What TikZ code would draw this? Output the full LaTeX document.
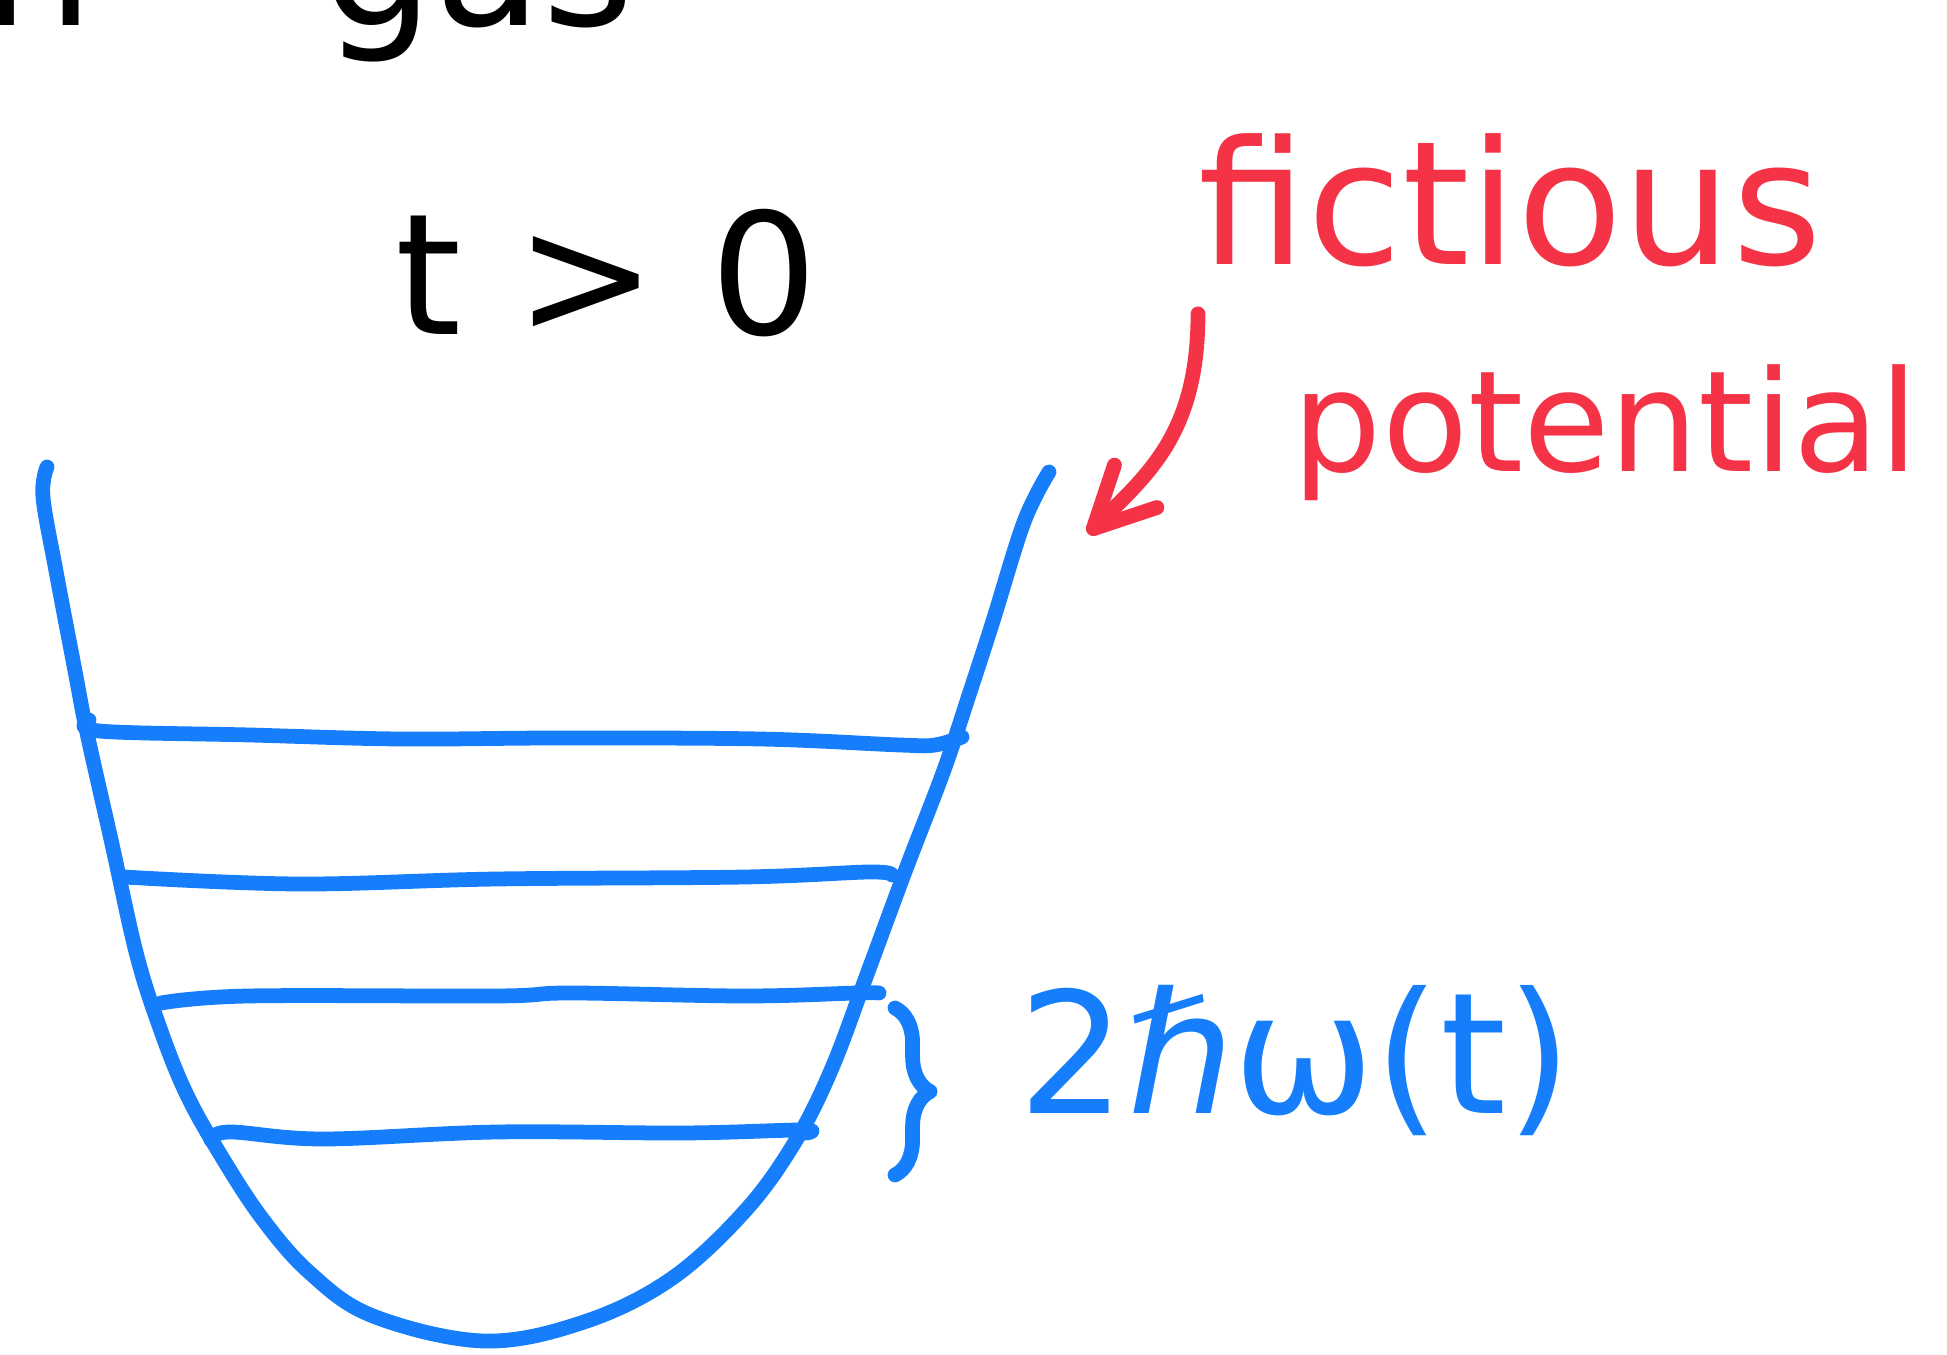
\documentclass[tikz,border=0pt]{standalone}
\usepackage{fontspec}
\setmainfont{DejaVu Sans}
\usetikzlibrary{positioning, arrows.meta, decorations.pathreplacing}
\definecolor{wellblue}{RGB}{22,126,250}
\definecolor{notered}{RGB}{244,52,70}

\begin{document}
\begin{tikzpicture}[x=0.01cm, y=-0.01cm,
    ink/.style={line width=4.2pt, line cap=round, line join=round},
    level/.style={ink, wellblue},
    hand/.style={inner sep=0pt, anchor=base west},
    big/.style={font=\fontsize{#1}{#1}\selectfont}]
\useasboundingbox (0,0) rectangle (1947,1355);
\clip (0,0) rectangle (1947,1355);

% heading, cut off at the top
\node[hand, big=50] (headn) at (-18,26) {n};
\node[hand, big=50] (headgas) at (322,26) {gas};

\node[hand, big=48] (time) at (395,335) {t > 0};

% the well
\draw[ink, wellblue] plot [smooth, tension=.6]
    coordinates {(47,467)(43,497)(56,571)(75,671)(87,733)(112,844)(137,956)(161,1031)(186,1093)(217,1149)(261,1217)(310,1273)(373,1316)(484,1341)(584,1322)(671,1279)(745,1211)(795,1142)(832,1068)(869,969)(906,869)(944,770)(969,695)(993,621)(1024,522)(1049,472)};

% levels
\draw[level] plot [smooth, tension=.6]
    coordinates {(89,720)(99,731)(250,735)(400,739)(560,738)(760,739)(900,745)(935,745)(962,737)};
\draw[level] plot [smooth, tension=.6]
    coordinates {(124,877)(298,884)(497,879)(745,877)(869,872)(892,875)};
\draw[level] plot [smooth, tension=.6]
    coordinates {(161,1003)(248,996)(497,996)(571,993)(745,996)(857,993)(879,993)};
\draw[level] plot [smooth, tension=.6]
    coordinates {(211,1140)(230,1132)(323,1139)(497,1132)(683,1133)(801,1130)(807,1133)};

% spacing
\draw[ink, wellblue, decorate, decoration={brace, amplitude=10pt}] (895,1008) -- (895,1175);
\node[hand, wellblue, big=48] (gap) at (1018,1114) {2ℏω(t)};

% annotation
\node[hand, notered, big=49] (fict) at (1198,265) {fictious};
\node[hand, notered, big=40] (pot) at (1292,472) {potential};
\coordinate (tip) at (1088,534);
\draw[ink, notered, -{Straight Barb[round, length=6mm, width=6mm]}]
    ([yshift=-13pt]fict.south west) .. controls +(0,120) and +(60,-60) .. (tip);
\end{tikzpicture}
\end{document}
